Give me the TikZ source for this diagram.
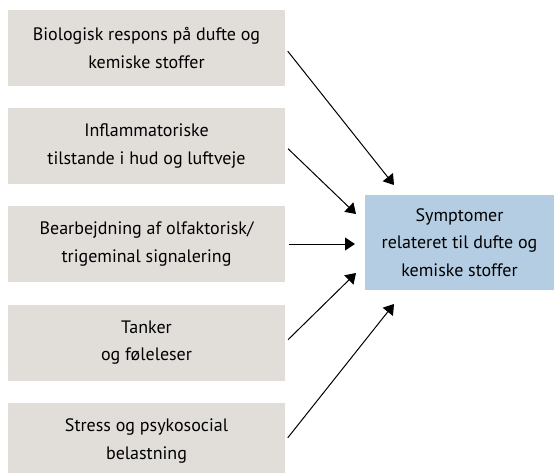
\documentclass[tikz,border=0pt]{standalone}
\usepackage{fontspec}
\setmainfont{PT Sans}
\usepackage{tikz}
\usetikzlibrary{arrows.meta}
\definecolor{boxgray}{RGB}{225,222,218}
\definecolor{boxblue}{RGB}{180,205,226}
\tikzset{
  factor/.style={fill=boxgray, minimum width=277pt, minimum height=76pt, inner sep=0pt,
    align=center, font=\fontsize{18pt}{27.5pt}\selectfont},
  symptom/.style={fill=boxblue, minimum width=189pt, minimum height=95pt, inner sep=0pt,
    align=center, font=\fontsize{18pt}{27.5pt}\selectfont},
  arrow/.style={-{Triangle[length=10pt, width=13pt]}, draw=black, line width=1pt,
    shorten <=4pt}
}
\begin{document}
\begin{tikzpicture}[x=1pt, y=-1pt]
  \clip (0,0) rectangle (556,473);
  % Factors on the left
  \node[factor] (A) at (146.5,48) {Biologisk respons på dufte og\\kemiske stoffer};
  \node[factor] (B) at (146.5,146) {Inflammatoriske\\tilstande i hud og luftveje};
  \node[factor] (C) at (146.5,244) {Bearbejdning af olfaktorisk/\\trigeminal signalering};
  \node[factor] (D) at (146.5,342.5) {Tanker\\og føleleser};
  \node[factor] (E) at (146.5,441) {Stress og psykosocial\\belastning};
  % Symptom box
  \node[symptom] (S) at (459.5,242.5) {Symptomer\\relateret til dufte og\\kemiske stoffer};

  % Arrow tips
  \coordinate (TA) at (394,185);
  \coordinate (TB) at (356,214);
  \coordinate (TC) at (355,244);
  \coordinate (TD) at (356,273);
  \coordinate (TE) at (394,304);
  \draw[arrow] (A.east) -- (TA);
  \draw[arrow] (B.east) -- (TB);
  \draw[arrow] (C.east) -- (TC);
  \draw[arrow] (D.east) -- (TD);
  \draw[arrow] (E.east) -- (TE);
\end{tikzpicture}
\end{document}
